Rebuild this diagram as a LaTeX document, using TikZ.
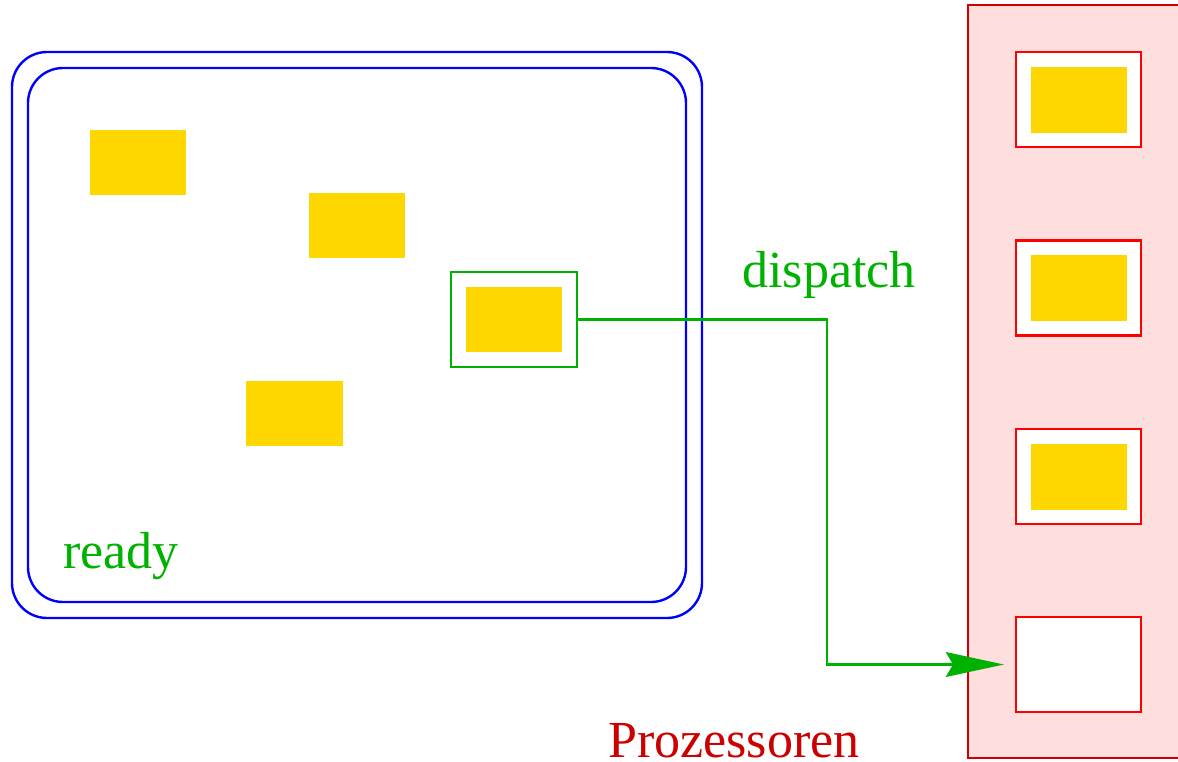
\documentclass[tikz,border=0pt]{standalone}
\usepackage{fontspec}
\setmainfont{Liberation Serif}
\usepackage{xcolor}
\usepackage{tikz}
\usetikzlibrary{arrows.meta}
\definecolor{jobgold}{RGB}{255,215,0}
\definecolor{dispgreen}{RGB}{0,178,0}
\definecolor{procred}{RGB}{204,0,0}
\definecolor{procpink}{RGB}{255,222,222}
\tikzstyle{job} = [rectangle, fill=jobgold, inner sep=0pt, minimum width=2.4cm, minimum height=1.625cm]
\tikzstyle{chosen} = [rectangle, draw=dispgreen, line width=1.6pt, inner sep=0pt, minimum width=3.15cm, minimum height=2.375cm]
\tikzstyle{proc} = [rectangle, draw=red, fill=white, line width=1.6pt, inner sep=0pt, minimum width=3.125cm, minimum height=2.375cm]
\tikzstyle{pool} = [draw=blue, line width=1.7pt, rounded corners=0.875cm]
\tikzstyle{label} = [inner sep=0pt, anchor=base west, font=\fontsize{37}{44}\selectfont]
\tikzstyle{line} = [draw=dispgreen, line width=1.7pt, -{Stealth[length=1.45cm, width=0.62cm, inset=0.18cm]}]

\begin{document}
\begin{tikzpicture}[x=0.025cm, y=-0.025cm]
    \useasboundingbox (0,0) rectangle (1178,762);
    % ready pool
    \draw [pool] (12,52) rectangle (702,618);
    \draw [pool] (28,68) rectangle (686,602);
    \node [job] (j1) at (138,162.5) {};
    \node [job] (j2) at (357,225.5) {};
    \node [job] (j4) at (294.5,413.5) {};
    \node [job] (j3) at (514,319.5) {};
    \node [chosen] (sel) at (514,319.5) {};
    \node [label, text=dispgreen] (ready) at (63,568) {ready};
    % processors
    \draw [draw=procred, fill=procpink, line width=1.6pt] (968,5) rectangle (1200,758);
    \node [proc] (p1) at (1078.5,99.5) {};
    \node [proc] (p2) at (1078.5,288) {};
    \node [proc] (p3) at (1078.5,476.5) {};
    \node [proc] (p4) at (1078.5,664.5) {};
    \node [job] (a1) at (1079,100) {};
    \node [job] (a2) at (1079,288) {};
    \node [job] (a3) at (1079,477) {};
    \node [label, text=procred] (prozessoren) at (608,757) {Prozessoren};
    % dispatch
    \coordinate (knick) at (827,319.5);
    \node [label, text=dispgreen] (dispatch) at (742,287) {dispatch};
    \path [line, shorten >=0.275cm] (sel.east) -- (knick) |- (p4.west);
\end{tikzpicture}
\end{document}
